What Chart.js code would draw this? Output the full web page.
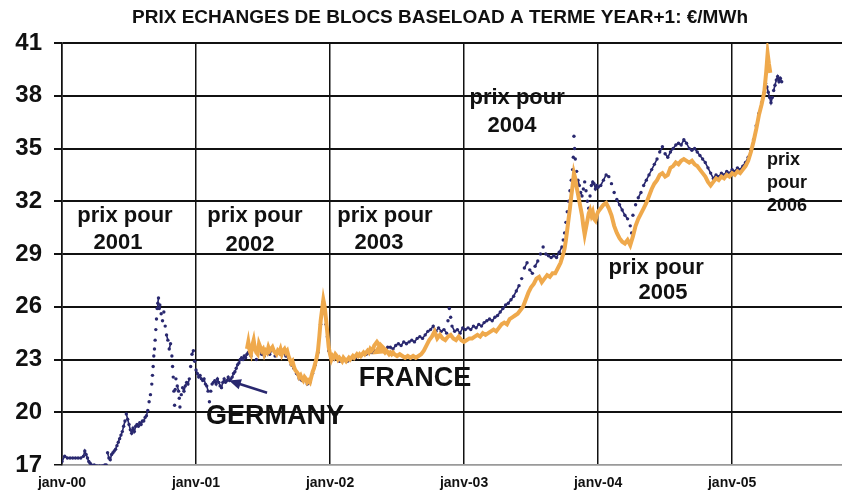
<!DOCTYPE html>
<html>
<head>
<meta charset="utf-8">
<script src="https://cdn.jsdelivr.net/npm/chart.js@4/dist/chart.umd.min.js"></script>
<style>
  html, body { margin: 0; padding: 0; background: #fff; }
  #wrap { width: 842px; height: 495px; }
</style>
</head>
<body>
<div id="wrap"><canvas id="c" width="842" height="495"></canvas></div>
<script>
// Year-ahead baseload forward prices, €/MWh, by trading date (decimal year)
const chartTitle = 'PRIX ECHANGES DE BLOCS BASELOAD A TERME YEAR+1: €/MWh';
const yearTicks = [2000, 2001, 2002, 2003, 2004, 2005];
const yearLabels = ['janv-00', 'janv-01', 'janv-02', 'janv-03', 'janv-04', 'janv-05'];
const priceTicks = [17, 20, 23, 26, 29, 32, 35, 38, 41];

const germany = [
  [2000.00,17.2],[2000.02,17.5],[2000.04,17.4],[2000.06,17.4],[2000.08,17.4],[2000.10,17.4],
  [2000.12,17.4],[2000.14,17.4],[2000.16,17.5],[2000.17,17.8],[2000.18,17.6],[2000.19,17.4],
  [2000.20,17.2],[2000.21,17.1],[2000.22,17.0],[2000.24,17.0],[2000.26,16.95],[2000.28,16.95],
  [2000.30,16.95],[2000.32,17.0],[2000.33,17.0],[2000.34,17.7],[2000.35,17.4],[2000.36,17.3],
  [2000.37,17.6],[2000.38,17.7],[2000.39,17.8],[2000.40,17.9],[2000.41,18.1],[2000.42,18.3],
  [2000.43,18.5],[2000.44,18.7],[2000.45,18.9],[2000.46,19.2],[2000.47,19.5],[2000.48,19.9],
  [2000.49,19.6],[2000.50,19.3],[2000.51,19.0],[2000.52,18.8],[2000.53,19.1],[2000.54,18.9],
  [2000.55,19.2],[2000.56,19.3],[2000.57,19.2],[2000.58,19.4],[2000.59,19.3],[2000.60,19.5],
  [2000.61,19.5],[2000.62,19.7],[2000.63,19.8],[2000.64,20.1],[2000.65,20.6],[2000.66,21.0],
  [2000.67,21.6],[2000.675,22.1],[2000.68,22.6],[2000.685,23.2],[2000.69,23.6],[2000.695,24.1],
  [2000.70,24.7],[2000.705,25.3],[2000.71,25.9],[2000.715,26.2],[2000.72,26.5],[2000.725,25.9],
  [2000.73,26.1],[2000.74,25.6],[2000.75,25.2],[2000.76,25.7],[2000.77,24.9],[2000.78,24.4],
  [2000.79,24.1],[2000.80,23.6],[2000.81,23.9],[2000.82,23.2],[2000.825,22.6],[2000.83,22.0],
  [2000.835,21.2],[2000.84,20.4],[2000.845,21.3],[2000.85,21.9],[2000.86,21.5],[2000.87,21.2],
  [2000.875,20.8],[2000.88,20.3],[2000.89,21.0],[2000.90,21.4],[2000.91,21.2],[2000.92,21.5],
  [2000.93,21.7],[2000.94,21.6],[2000.95,21.9],[2000.96,22.6],[2000.97,23.3],[2000.98,23.5],
  [2000.99,22.9],[2001.00,22.4],[2001.01,22.2],[2001.02,22.0],[2001.03,22.1],[2001.04,21.9],
  [2001.05,21.8],[2001.06,21.9],[2001.07,21.6],[2001.08,21.5],[2001.09,21.2],[2001.10,20.6],
  [2001.11,21.2],[2001.12,21.6],[2001.13,21.7],[2001.14,21.8],[2001.15,21.6],[2001.16,21.9],
  [2001.17,21.7],[2001.18,21.5],[2001.19,21.4],[2001.20,21.7],[2001.21,21.9],[2001.22,21.7],
  [2001.23,21.8],[2001.24,22.0],[2001.25,21.8],[2001.26,21.9],[2001.27,22.0],[2001.28,22.2],
  [2001.29,22.3],[2001.30,22.5],[2001.31,22.7],[2001.32,22.8],[2001.33,23.0],[2001.34,23.1],
  [2001.35,23.0],[2001.36,23.2],[2001.37,23.1],[2001.38,23.3],[2001.39,23.4],[2001.41,23.2],
  [2001.43,23.9],[2001.45,23.0],[2001.47,23.6],[2001.49,23.3],[2001.51,23.2],[2001.53,23.5],
  [2001.55,23.3],[2001.57,23.6],[2001.59,23.2],[2001.61,23.4],[2001.63,23.3],[2001.65,23.4],
  [2001.67,23.2],[2001.69,23.1],[2001.71,22.7],[2001.73,22.5],[2001.75,22.2],[2001.77,21.9],
  [2001.79,21.8],[2001.81,21.9],[2001.83,21.6],[2001.85,21.7],[2001.87,22.2],[2001.89,22.7],
  [2001.91,23.4],[2001.93,25.0],[2001.94,25.6],[2001.95,26.3],[2001.96,25.8],[2001.97,25.0],
  [2001.98,24.3],[2001.99,23.5],[2002.01,23.0],[2002.03,23.0],[2002.05,23.1],[2002.07,22.9],
  [2002.09,22.9],[2002.11,23.0],[2002.13,22.9],[2002.15,23.0],[2002.17,23.1],[2002.19,23.1],
  [2002.21,23.2],[2002.23,23.2],[2002.25,23.3],[2002.27,23.3],[2002.29,23.4],[2002.31,23.4],
  [2002.33,23.5],[2002.35,23.5],[2002.37,23.6],[2002.39,23.6],[2002.41,23.5],[2002.43,23.7],
  [2002.45,23.7],[2002.47,23.6],[2002.49,23.8],[2002.51,23.9],[2002.53,23.8],[2002.55,24.0],
  [2002.57,23.9],[2002.59,24.0],[2002.61,24.1],[2002.63,24.0],[2002.65,24.2],[2002.67,24.3],
  [2002.69,24.2],[2002.71,24.4],[2002.73,24.6],[2002.75,24.7],[2002.77,24.9],[2002.79,24.6],
  [2002.81,24.8],[2002.83,24.6],[2002.85,24.7],[2002.87,24.5],[2002.88,25.2],[2002.89,25.9],
  [2002.90,25.4],[2002.91,24.9],[2002.93,24.6],[2002.95,24.7],[2002.97,24.5],[2002.99,24.8],
  [2003.01,24.7],[2003.03,24.8],[2003.05,24.7],[2003.07,24.9],[2003.09,24.8],[2003.11,25.0],
  [2003.13,24.9],[2003.15,25.1],[2003.17,25.2],[2003.19,25.3],[2003.21,25.2],[2003.23,25.4],
  [2003.25,25.5],[2003.27,25.7],[2003.29,25.9],[2003.31,26.1],[2003.33,26.2],[2003.35,26.4],
  [2003.37,26.6],[2003.39,26.9],[2003.41,27.2],[2003.43,27.6],[2003.45,28.2],[2003.47,28.5],
  [2003.49,28.1],[2003.51,27.9],[2003.53,28.3],[2003.55,28.6],[2003.57,29.0],[2003.59,29.4],
  [2003.61,29.0],[2003.63,28.9],[2003.65,28.8],[2003.67,28.9],[2003.69,28.8],[2003.71,29.1],
  [2003.73,29.4],[2003.74,29.8],[2003.75,30.2],[2003.76,30.8],[2003.77,31.4],[2003.78,32.0],
  [2003.79,32.6],[2003.80,33.2],[2003.81,33.8],[2003.815,34.5],[2003.82,35.7],[2003.825,35.0],
  [2003.83,34.4],[2003.84,33.7],[2003.85,33.2],[2003.86,32.9],[2003.87,32.5],[2003.88,32.3],
  [2003.89,32.7],[2003.90,33.1],[2003.91,32.6],[2003.92,32.0],[2003.93,31.6],[2003.94,32.3],
  [2003.95,32.9],[2003.96,33.1],[2003.97,33.0],[2003.98,32.7],[2003.99,32.9],[2004.00,32.8],
  [2004.02,32.9],[2004.04,33.2],[2004.06,33.5],[2004.08,33.4],[2004.10,33.0],[2004.12,32.5],
  [2004.14,32.1],[2004.16,31.8],[2004.18,31.5],[2004.20,31.2],[2004.22,31.0],[2004.24,30.6],
  [2004.25,30.2],[2004.26,31.2],[2004.28,31.8],[2004.30,32.2],[2004.32,32.5],[2004.34,32.9],
  [2004.36,33.2],[2004.38,33.5],[2004.40,33.8],[2004.42,34.1],[2004.44,34.4],[2004.46,34.8],
  [2004.48,35.1],[2004.50,34.7],[2004.52,34.5],[2004.54,34.8],[2004.56,35.0],[2004.58,35.2],
  [2004.60,35.3],[2004.62,35.2],[2004.64,35.5],[2004.66,35.3],[2004.68,35.0],[2004.70,34.9],
  [2004.72,35.0],[2004.74,34.8],[2004.76,34.6],[2004.78,34.4],[2004.80,34.2],[2004.82,33.9],
  [2004.84,33.6],[2004.86,33.3],[2004.88,33.5],[2004.90,33.4],[2004.92,33.6],[2004.94,33.5],
  [2004.96,33.7],[2004.98,33.6],[2005.00,33.8],[2005.02,33.7],[2005.04,33.9],[2005.06,33.8],
  [2005.08,34.0],[2005.10,34.2],[2005.12,34.5],[2005.14,34.9],[2005.16,35.5],[2005.18,36.3],
  [2005.20,37.0],[2005.22,37.6],[2005.24,38.2],[2005.25,38.7],[2005.26,38.5],[2005.27,38.2],
  [2005.28,37.9],[2005.29,37.6],[2005.30,37.9],[2005.31,38.3],[2005.32,38.6],[2005.33,38.9],
  [2005.34,39.1],[2005.35,38.8],[2005.36,39.0],[2005.37,38.8]
];

const france = [
  [2001.38,23.6],[2001.39,24.0],[2001.40,23.5],[2001.41,23.3],[2001.42,23.8],[2001.43,24.1],
  [2001.44,23.6],[2001.45,23.4],[2001.46,23.3],[2001.47,23.9],[2001.48,23.7],[2001.49,23.5],
  [2001.50,23.6],[2001.51,23.3],[2001.52,23.5],[2001.53,23.4],[2001.54,23.7],[2001.55,23.5],
  [2001.56,23.6],[2001.57,23.7],[2001.58,23.5],[2001.59,23.4],[2001.60,23.3],[2001.61,23.5],
  [2001.62,23.4],[2001.63,23.6],[2001.64,23.3],[2001.65,23.5],[2001.66,23.6],[2001.67,23.4],
  [2001.68,23.5],[2001.69,23.2],[2001.70,23.0],[2001.71,22.8],[2001.72,22.9],[2001.73,22.6],
  [2001.74,22.4],[2001.75,22.3],[2001.76,22.2],[2001.77,22.0],[2001.78,22.1],[2001.79,21.9],
  [2001.80,21.8],[2001.81,22.0],[2001.82,21.9],[2001.83,21.7],[2001.84,21.8],[2001.85,21.7],
  [2001.86,22.0],[2001.87,22.3],[2001.88,22.5],[2001.89,22.8],[2001.90,23.1],[2001.91,23.5],
  [2001.92,24.3],[2001.93,25.2],[2001.94,25.8],[2001.95,26.4],[2001.96,26.0],[2001.97,25.3],
  [2001.98,24.5],[2001.99,23.7],[2002.00,23.3],[2002.01,23.0],[2002.02,23.2],[2002.03,23.1],
  [2002.04,23.3],[2002.05,23.2],[2002.06,23.0],[2002.07,23.1],[2002.08,23.0],[2002.09,22.9],
  [2002.10,23.1],[2002.11,23.0],[2002.12,22.9],[2002.13,23.0],[2002.14,23.1],[2002.15,23.0],
  [2002.16,23.1],[2002.17,23.2],[2002.18,23.1],[2002.19,23.2],[2002.20,23.3],[2002.21,23.2],
  [2002.22,23.3],[2002.23,23.2],[2002.24,23.3],[2002.25,23.4],[2002.26,23.3],[2002.27,23.4],
  [2002.28,23.5],[2002.29,23.4],[2002.30,23.6],[2002.31,23.5],[2002.32,23.6],[2002.33,23.8],
  [2002.34,23.9],[2002.35,24.0],[2002.36,23.9],[2002.37,23.8],[2002.38,23.7],[2002.39,23.6],
  [2002.40,23.5],[2002.41,23.4],[2002.42,23.5],[2002.43,23.4],[2002.44,23.3],[2002.45,23.4],
  [2002.46,23.3],[2002.47,23.4],[2002.48,23.3],[2002.50,23.2],[2002.52,23.3],[2002.54,23.2],
  [2002.56,23.1],[2002.58,23.2],[2002.60,23.1],[2002.62,23.2],[2002.64,23.1],[2002.66,23.2],
  [2002.68,23.3],[2002.70,23.5],[2002.72,23.8],[2002.74,24.1],[2002.76,24.3],[2002.78,24.6],
  [2002.80,24.2],[2002.82,24.4],[2002.84,24.2],[2002.86,24.1],[2002.88,24.3],[2002.90,24.4],
  [2002.92,24.2],[2002.94,24.1],[2002.96,24.3],[2002.98,24.1],[2003.00,24.0],[2003.02,24.1],
  [2003.04,24.2],[2003.06,24.2],[2003.08,24.3],[2003.10,24.4],[2003.12,24.3],[2003.14,24.5],
  [2003.16,24.4],[2003.18,24.5],[2003.20,24.6],[2003.22,24.7],[2003.24,24.6],[2003.26,24.8],
  [2003.28,25.0],[2003.30,25.1],[2003.32,25.0],[2003.34,25.3],[2003.36,25.4],[2003.38,25.5],
  [2003.40,25.6],[2003.42,25.8],[2003.44,26.0],[2003.46,26.4],[2003.48,26.8],[2003.50,27.1],
  [2003.52,27.3],[2003.54,27.6],[2003.56,27.7],[2003.58,27.4],[2003.60,27.6],[2003.62,27.8],
  [2003.64,27.7],[2003.66,27.9],[2003.68,27.9],[2003.70,28.2],[2003.72,28.5],[2003.74,29.0],
  [2003.75,29.3],[2003.76,29.8],[2003.77,30.4],[2003.78,31.0],[2003.79,31.6],[2003.80,32.3],
  [2003.81,32.9],[2003.82,33.6],[2003.83,33.3],[2003.84,32.8],[2003.85,32.4],[2003.86,32.0],
  [2003.87,31.6],[2003.88,31.2],[2003.89,30.6],[2003.90,30.1],[2003.91,30.5],[2003.92,30.9],
  [2003.93,31.3],[2003.94,31.5],[2003.95,31.2],[2003.96,31.4],[2003.97,31.0],[2003.98,30.9],
  [2003.99,31.2],[2004.00,31.4],[2004.02,31.6],[2004.04,31.8],[2004.06,31.9],[2004.08,31.6],
  [2004.10,31.2],[2004.12,30.6],[2004.14,30.2],[2004.16,29.9],[2004.18,29.7],[2004.20,29.6],
  [2004.22,29.8],[2004.24,29.5],[2004.26,30.0],[2004.28,30.6],[2004.30,31.0],[2004.32,31.3],
  [2004.34,31.6],[2004.36,31.9],[2004.38,32.3],[2004.40,32.7],[2004.42,33.0],[2004.44,33.2],
  [2004.46,33.5],[2004.48,33.6],[2004.50,33.4],[2004.52,33.5],[2004.54,33.9],[2004.56,34.0],
  [2004.58,34.2],[2004.60,34.1],[2004.62,34.3],[2004.64,34.4],[2004.66,34.3],[2004.68,34.2],
  [2004.70,34.3],[2004.72,34.1],[2004.74,34.0],[2004.76,33.8],[2004.78,33.6],[2004.80,33.4],
  [2004.82,33.1],[2004.84,32.9],[2004.86,33.1],[2004.88,33.3],[2004.90,33.2],[2004.92,33.4],
  [2004.94,33.3],[2004.96,33.5],[2004.98,33.4],[2005.00,33.6],[2005.02,33.5],[2005.04,33.7],
  [2005.06,33.6],[2005.08,33.8],[2005.10,34.0],[2005.12,34.3],[2005.14,34.8],[2005.16,35.4],
  [2005.18,36.1],[2005.20,36.9],[2005.22,37.5],[2005.24,38.2],[2005.255,39.4],[2005.265,40.4],
  [2005.275,39.8],[2005.285,39.3]
];

// Text notes placed in data coordinates (year, €/MWh)
const notes = [
  { text: 'prix pour', x: 2000.470, y: 31.17, size: 22 },
  { text: '2001',      x: 2000.418, y: 29.64, size: 22 },
  { text: 'prix pour', x: 2001.440, y: 31.17, size: 22 },
  { text: '2002',      x: 2001.403, y: 29.52, size: 22 },
  { text: 'prix pour', x: 2002.410, y: 31.17, size: 22 },
  { text: '2003',      x: 2002.366, y: 29.64, size: 22 },
  { text: 'prix pour', x: 2003.396, y: 37.88, size: 22 },
  { text: '2004',      x: 2003.358, y: 36.28, size: 22 },
  { text: 'prix pour', x: 2004.433, y: 28.20, size: 22 },
  { text: '2005',      x: 2004.485, y: 26.80, size: 22 },
  { text: 'prix',      x: 2005.261, y: 34.35, size: 18, align: 'left' },
  { text: 'pour',      x: 2005.261, y: 33.05, size: 18, align: 'left' },
  { text: '2006',      x: 2005.261, y: 31.74, size: 18, align: 'left' },
  { text: 'FRANCE',    x: 2002.634, y: 21.90, size: 27 },
  { text: 'GERMANY',   x: 2001.590, y: 19.75, size: 27 }
];
const germanyArrow = { from: [2001.530, 21.11], to: [2001.246, 21.80] };
const franceArrowHead = [[2002.373, 24.02], [2002.313, 23.28], [2002.455, 23.39]];

const FONT = '"Liberation Sans", Arial, Helvetica, sans-serif';
const NAVY = '#29286f';
const ORANGE = '#efa94c';

const decorations = {
  id: 'decorations',
  afterDatasetsDraw(chart) {
    const { ctx, scales: { x, y } } = chart;
    ctx.save();
    // arrow pointing at the German curve
    const x0 = x.getPixelForValue(germanyArrow.from[0]), y0 = y.getPixelForValue(germanyArrow.from[1]);
    const x1 = x.getPixelForValue(germanyArrow.to[0]),   y1 = y.getPixelForValue(germanyArrow.to[1]);
    const ang = Math.atan2(y1 - y0, x1 - x0);
    ctx.strokeStyle = NAVY; ctx.fillStyle = NAVY; ctx.lineWidth = 2.5;
    ctx.beginPath(); ctx.moveTo(x0, y0);
    ctx.lineTo(x1 - 8 * Math.cos(ang), y1 - 8 * Math.sin(ang)); ctx.stroke();
    ctx.beginPath(); ctx.moveTo(x1, y1);
    ctx.lineTo(x1 - 13 * Math.cos(ang - 0.42), y1 - 13 * Math.sin(ang - 0.42));
    ctx.lineTo(x1 - 13 * Math.cos(ang + 0.42), y1 - 13 * Math.sin(ang + 0.42));
    ctx.closePath(); ctx.fill();
    // small arrow head on the French curve
    ctx.fillStyle = ORANGE;
    ctx.beginPath();
    franceArrowHead.forEach(([vx, vy], i) => {
      const px = x.getPixelForValue(vx), py = y.getPixelForValue(vy);
      if (i === 0) ctx.moveTo(px, py); else ctx.lineTo(px, py);
    });
    ctx.closePath(); ctx.fill();
    // notes
    ctx.fillStyle = '#111';
    ctx.textBaseline = 'middle';
    notes.forEach(n => {
      ctx.font = `bold ${n.size}px ${FONT}`;
      ctx.textAlign = n.align || 'center';
      ctx.fillText(n.text, x.getPixelForValue(n.x), y.getPixelForValue(n.y));
    });
    ctx.restore();
  },
  afterDraw(chart) {
    const { ctx } = chart;
    ctx.save();
    ctx.fillStyle = '#111';
    ctx.font = `bold 19px ${FONT}`;
    ctx.textAlign = 'center';
    ctx.textBaseline = 'middle';
    ctx.fillText(chartTitle, 440, 18);
    ctx.restore();
  }
};

const bgPlugin = {
  id: 'bg',
  beforeDraw(chart) {
    const { ctx } = chart;
    ctx.save(); ctx.fillStyle = '#fff';
    ctx.fillRect(0, 0, chart.width, chart.height); ctx.restore();
  }
};

// German quotes are plotted as daily dots: consecutive quotes are joined
// only when the move between them is small, so big jumps stay dotted.
const dotJoin = c => (Math.abs(c.p1.parsed.y - c.p0.parsed.y) > 0.35 ? 'rgba(0,0,0,0)' : NAVY);

new Chart(document.getElementById('c'), {
  type: 'line',
  data: {
    datasets: [
      {
        label: 'FRANCE',
        data: france.map(([t, v]) => ({ x: t, y: v })),
        borderColor: ORANGE,
        borderWidth: 4,
        pointRadius: 0,
        tension: 0,
        order: 1
      },
      {
        label: 'GERMANY',
        data: germany.map(([t, v]) => ({ x: t, y: v })),
        borderColor: NAVY,
        borderWidth: 1.6,
        segment: { borderColor: dotJoin },
        pointRadius: 1.7,
        pointBorderWidth: 0,
        pointBackgroundColor: NAVY,
        tension: 0,
        order: 2
      }
    ]
  },
  options: {
    responsive: false,
    animation: false,
    layout: { autoPadding: false, padding: { top: 43, right: 0, left: 0, bottom: 0 } },
    plugins: { legend: { display: false }, tooltip: { enabled: false }, title: { display: false } },
    scales: {
      x: {
        type: 'linear',
        min: 2000,
        max: 2005.82,
        afterBuildTicks: s => { s.ticks = yearTicks.map(v => ({ value: v })); },
        afterFit: s => { s.height = 30; },
        ticks: {
          autoSkip: false,
          maxRotation: 0,
          padding: 10,
          color: '#111',
          font: { family: FONT, size: 14, weight: 'bold' },
          callback: v => yearLabels[yearTicks.indexOf(v)]
        },
        grid: { color: '#111', lineWidth: 1.5, drawTicks: false },
        border: { display: true, color: '#9a9a9a', width: 1.5 }
      },
      y: {
        min: 17,
        max: 41,
        afterBuildTicks: s => { s.ticks = priceTicks.map(v => ({ value: v })); },
        afterFit: s => { s.width = 62; },
        ticks: {
          padding: 12,
          color: '#111',
          font: { family: FONT, size: 24, weight: 'bold' }
        },
        grid: {
          color: c => (c.tick && c.tick.value === 17 ? '#9a9a9a' : '#111'),
          lineWidth: c => (c.tick && c.tick.value === 17 ? 1.5 : 2),
          tickLength: 8,
          tickColor: '#111'
        },
        border: { display: true, color: '#111', width: 1.5 }
      }
    }
  },
  plugins: [bgPlugin, decorations]
});
</script>
</body>
</html>
